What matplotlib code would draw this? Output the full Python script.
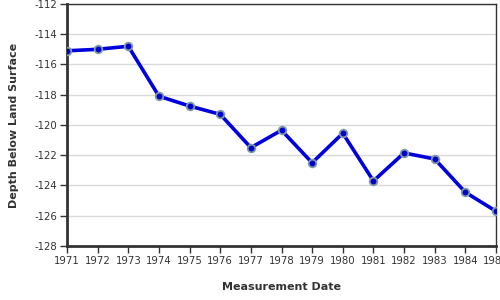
import numpy as np
import matplotlib
matplotlib.use("Agg")
import matplotlib.pyplot as plt

years = [1971, 1972, 1973, 1974, 1975, 1976, 1977, 1978, 1979, 1980,
         1981, 1982, 1983, 1984, 1985]
depth = [-115.1, -115.0, -114.8, -118.1, -118.75, -119.3, -121.5, -120.35,
         -122.5, -120.55, -123.7, -121.85, -122.25, -124.45, -125.7]
yticks = [-112, -114, -116, -118, -120, -122, -124, -126, -128]

fig = plt.figure(figsize=(5, 3), dpi=100)
ax = fig.add_axes([0.134, 0.18, 0.858, 0.807])

ax.plot(years, depth, color="#0000dd", lw=2.6, zorder=3, solid_joinstyle="round",
        marker="o", markersize=5.5, markerfacecolor="#0000cc",
        markeredgecolor="#7f9aa8", markeredgewidth=1.3)

ax.set_xlim(1971, 1985)
ax.set_ylim(-128, -112)
ax.set_xticks(years)
ax.set_xticklabels([str(y) for y in years], fontsize=7.3, color="#333333")
ax.set_yticks(yticks)
ax.set_yticklabels([str(t) for t in yticks], fontsize=7.3, color="#333333")
ax.yaxis.grid(True, color="#d9d9d9", lw=1)
ax.set_axisbelow(True)

for s in ["left", "bottom"]:
    ax.spines[s].set_linewidth(2)
    ax.spines[s].set_color("#333333")
for s in ["top", "right"]:
    ax.spines[s].set_linewidth(1)
    ax.spines[s].set_color("#333333")
ax.tick_params(axis="both", length=5, width=1, color="#333333", pad=2)

ax.set_xlabel("Measurement Date", fontsize=8, fontweight="bold", color="#333333", labelpad=12)
ax.set_ylabel("Depth Below Land Surface", fontsize=8, fontweight="bold", color="#333333", labelpad=11)

fig.savefig("out.png", dpi=100)
